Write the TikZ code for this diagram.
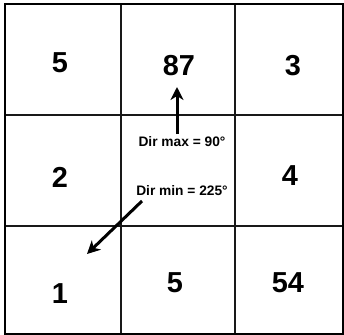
\documentclass[tikz,border=0pt]{standalone}
\usepackage{fontspec}
\setmainfont{Liberation Sans}
\usetikzlibrary{arrows.meta}
\begin{document}
\begin{tikzpicture}[x=1bp,y=-1bp,
  gridline/.style={line width=1.5bp,black!90},
  num/.style={font=\fontsize{29}{31}\selectfont\bfseries,inner sep=0pt},
  lbl/.style={font=\fontsize{13.8}{15}\selectfont\bfseries,inner sep=0pt},
  arr/.style={line width=3bp,-{Stealth[length=13bp,width=13bp,inset=4bp]}}]
\useasboundingbox (0,0) rectangle (344,335);
\fill[white] (0,0) rectangle (344,335);
% grid
\draw[gridline] (121,4) -- (121,334);
\draw[gridline] (235,4) -- (235,334);
\draw[gridline] (5,115) -- (343,115);
\draw[gridline] (5,226) -- (343,226);
\draw[line width=2bp] (5,4) rectangle (343,334);
% numbers
\node[num] (c11) at (60,63) {5};
\node[num] (c12) at (179,66) {87};
\node[num] (c13) at (293,66) {3};
\node[num] (c21) at (60,177) {2};
\node[num] (c23) at (290,176) {4};
\node[num] (c31) at (60,294) {1};
\node[num] (c32) at (175,283) {5};
\node[num] (c33) at (288,283) {54};
% labels
\node[lbl] (dmax) at (182,142) {Dir max = 90°};
\node[lbl] (dmin) at (182,191) {Dir min = 225°};
% arrows
\coordinate (upstart) at (177,134);
\coordinate (uptip) at (177,87);
\coordinate (dgstart) at (142,201);
\coordinate (dgtip) at (87,254);
\draw[arr] (upstart) -- (uptip);
\draw[arr] (dgstart) -- (dgtip);
\end{tikzpicture}
\end{document}
